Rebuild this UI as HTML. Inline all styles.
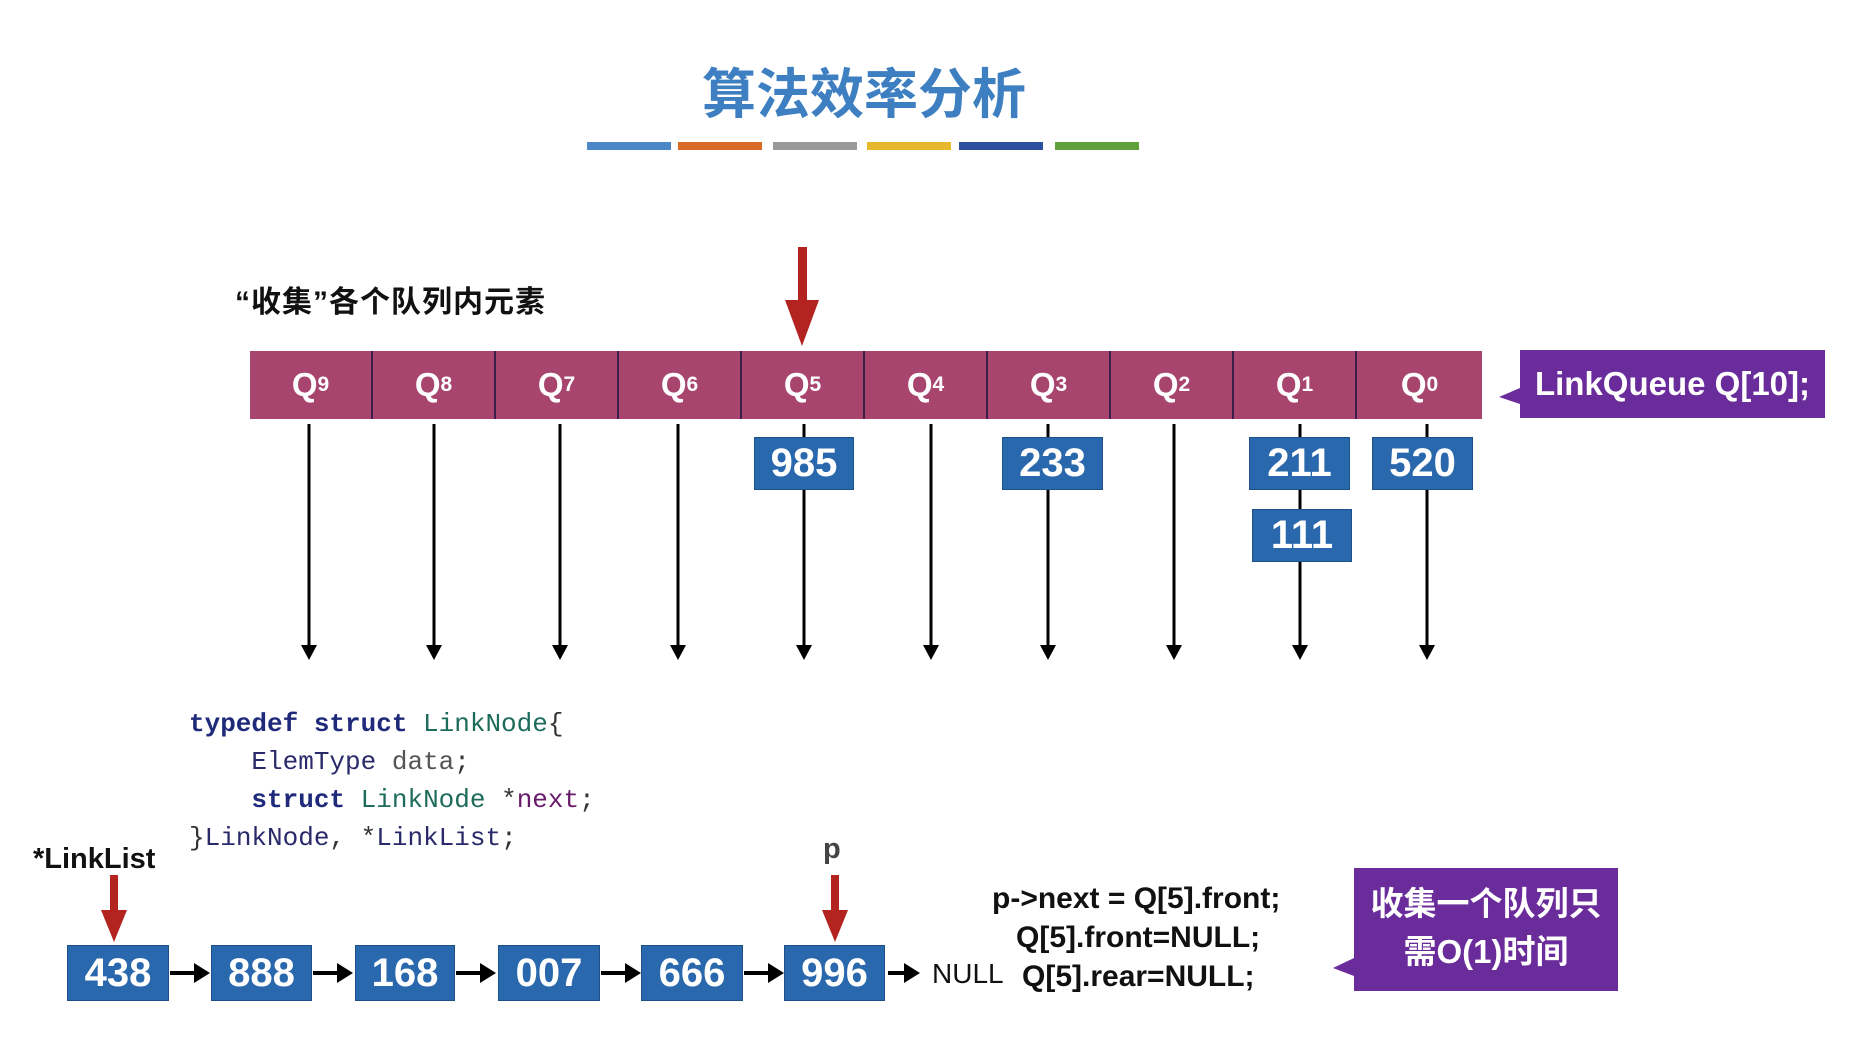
<!DOCTYPE html>
<html><head><meta charset="utf-8"><style>
html,body{margin:0;padding:0;background:#fff;}
body{width:1855px;height:1038px;position:relative;overflow:hidden;font-family:"Liberation Sans","Noto Sans CJK SC",sans-serif;}
.a{position:absolute;}
.bar{position:absolute;top:142px;height:8px;width:84px;}
.q{position:absolute;top:351px;height:68px;width:123px;background:#a8456f;color:#fff;font-weight:bold;font-size:33px;display:flex;align-items:center;justify-content:center;border-right:2px solid #3a1f4a;box-sizing:border-box;}
.q sub{font-size:21px;vertical-align:-3px;}
.b{position:absolute;background:#2a68ad;color:#fff;font-size:40px;font-weight:bold;display:flex;align-items:center;justify-content:center;box-sizing:border-box;border:1px solid #1d4f88;}
.code{position:absolute;left:189px;font-family:"Liberation Mono",monospace;font-size:26px;color:#333;white-space:pre;}
.kw{color:#1f2a7a;font-weight:bold}.ty{color:#1d6b5a}
.r{position:absolute;font-weight:bold;font-size:29px;color:#111;white-space:nowrap;}
</style></head><body>
<div class="a" style="left:0;top:50px;width:1728px;text-align:center;font-size:54px;font-weight:bold;color:#3d7fc1;">算法效率分析</div>
<div class="bar" style="left:587px;background:#4a86c8"></div>
<div class="bar" style="left:678px;background:#d86a2a"></div>
<div class="bar" style="left:773px;background:#9a9a9a"></div>
<div class="bar" style="left:867px;background:#e7b72c"></div>
<div class="bar" style="left:959px;background:#2d4fa0"></div>
<div class="bar" style="left:1055px;background:#5fa03a"></div>
<div class="a" style="left:235px;top:277px;font-size:30px;font-weight:bold;color:#111;letter-spacing:1px;">“收集”各个队列内元素</div>
<div class="q" style="left:250px">Q<sub>9</sub></div>
<div class="q" style="left:373px">Q<sub>8</sub></div>
<div class="q" style="left:496px">Q<sub>7</sub></div>
<div class="q" style="left:619px">Q<sub>6</sub></div>
<div class="q" style="left:742px">Q<sub>5</sub></div>
<div class="q" style="left:865px">Q<sub>4</sub></div>
<div class="q" style="left:988px">Q<sub>3</sub></div>
<div class="q" style="left:1111px">Q<sub>2</sub></div>
<div class="q" style="left:1234px">Q<sub>1</sub></div>
<div class="q" style="left:1357px;width:125px;border-right:none">Q<sub>0</sub></div>
<svg class="a" style="left:0;top:0" width="1855" height="1038">
<g stroke="#000" stroke-width="3">
<line x1="309" y1="424" x2="309" y2="657"/><line x1="434" y1="424" x2="434" y2="657"/><line x1="560" y1="424" x2="560" y2="657"/><line x1="678" y1="424" x2="678" y2="657"/><line x1="804" y1="424" x2="804" y2="657"/><line x1="931" y1="424" x2="931" y2="657"/><line x1="1048" y1="424" x2="1048" y2="657"/><line x1="1174" y1="424" x2="1174" y2="657"/><line x1="1300" y1="424" x2="1300" y2="657"/><line x1="1427" y1="424" x2="1427" y2="657"/>
</g>
<g fill="#000">
<path d="M301,645h16l-8,15z"/><path d="M426,645h16l-8,15z"/><path d="M552,645h16l-8,15z"/><path d="M670,645h16l-8,15z"/><path d="M796,645h16l-8,15z"/><path d="M923,645h16l-8,15z"/><path d="M1040,645h16l-8,15z"/><path d="M1166,645h16l-8,15z"/><path d="M1292,645h16l-8,15z"/><path d="M1419,645h16l-8,15z"/>
</g>
<g fill="#b3231f">
<rect x="798" y="247" width="9" height="55"/><path d="M785,300h34l-17,46z"/>
<rect x="110" y="875" width="8" height="38"/><path d="M101,910h26l-13,32z"/>
<rect x="831" y="875" width="8" height="38"/><path d="M822,910h26l-13,32z"/>
</g>
<g fill="#000">
<rect x="170" y="971" width="28" height="4"/><path d="M194,963l16,10l-16,10z"/>
<rect x="313" y="971" width="28" height="4"/><path d="M337,963l16,10l-16,10z"/>
<rect x="456" y="971" width="28" height="4"/><path d="M480,963l16,10l-16,10z"/>
<rect x="601" y="971" width="28" height="4"/><path d="M625,963l16,10l-16,10z"/>
<rect x="744" y="971" width="28" height="4"/><path d="M768,963l16,10l-16,10z"/>
<rect x="888" y="971" width="20" height="4"/><path d="M904,963l16,10l-16,10z"/>
</g>
<path d="M1520,388 L1499,397 L1520,404z" fill="#6a2c9a"/>
<path d="M1354,958 L1333,968 L1354,976z" fill="#6a2c9a"/>
</svg>
<div class="a" style="left:1520px;top:350px;width:305px;height:68px;background:#6a2c9a;color:#fff;font-size:33px;font-weight:bold;display:flex;align-items:center;justify-content:center;">LinkQueue Q[10];</div>
<div class="b" style="left:754px;top:437px;width:100px;height:53px">985</div>
<div class="b" style="left:1002px;top:437px;width:101px;height:53px">233</div>
<div class="b" style="left:1249px;top:437px;width:101px;height:53px">211</div>
<div class="b" style="left:1372px;top:437px;width:101px;height:53px">520</div>
<div class="b" style="left:1252px;top:509px;width:100px;height:53px">111</div>
<div class="code" style="top:709px"><span class="kw">typedef struct</span> <span class="ty">LinkNode</span>{</div>
<div class="code" style="top:747px">    <span style="color:#2a2a6a">ElemType</span> <span style="color:#555">data</span>;</div>
<div class="code" style="top:785px">    <span class="kw">struct</span> <span class="ty">LinkNode</span> *<span style="color:#6a1a6a">next</span>;</div>
<div class="code" style="top:823px">}<span style="color:#2a2a6a">LinkNode</span>, *<span style="color:#2a2a6a">LinkList</span>;</div>
<div class="r" style="left:33px;top:843px;">*LinkList</div>
<div class="r" style="left:823px;top:833px;color:#444">p</div>
<div class="b" style="left:67px;top:945px;width:102px;height:56px">438</div>
<div class="b" style="left:211px;top:945px;width:101px;height:56px">888</div>
<div class="b" style="left:355px;top:945px;width:100px;height:56px">168</div>
<div class="b" style="left:498px;top:945px;width:102px;height:56px">007</div>
<div class="b" style="left:641px;top:945px;width:102px;height:56px">666</div>
<div class="b" style="left:784px;top:945px;width:101px;height:56px">996</div>
<div class="a" style="left:932px;top:958px;font-size:28px;color:#111;">NULL</div>
<div class="r" style="left:992px;top:882px;font-size:30px;">p-&gt;next = Q[5].front;</div>
<div class="r" style="left:1016px;top:921px;font-size:30px;">Q[5].front=NULL;</div>
<div class="r" style="left:1022px;top:960px;font-size:30px;">Q[5].rear=NULL;</div>
<div class="a" style="left:1354px;top:868px;width:264px;height:123px;background:#6a2c9a;color:#fff;font-size:33px;font-weight:bold;text-align:center;line-height:48px;padding-top:12px;box-sizing:border-box;">收集一个队列只<br>需O(1)时间</div>
</body></html>
